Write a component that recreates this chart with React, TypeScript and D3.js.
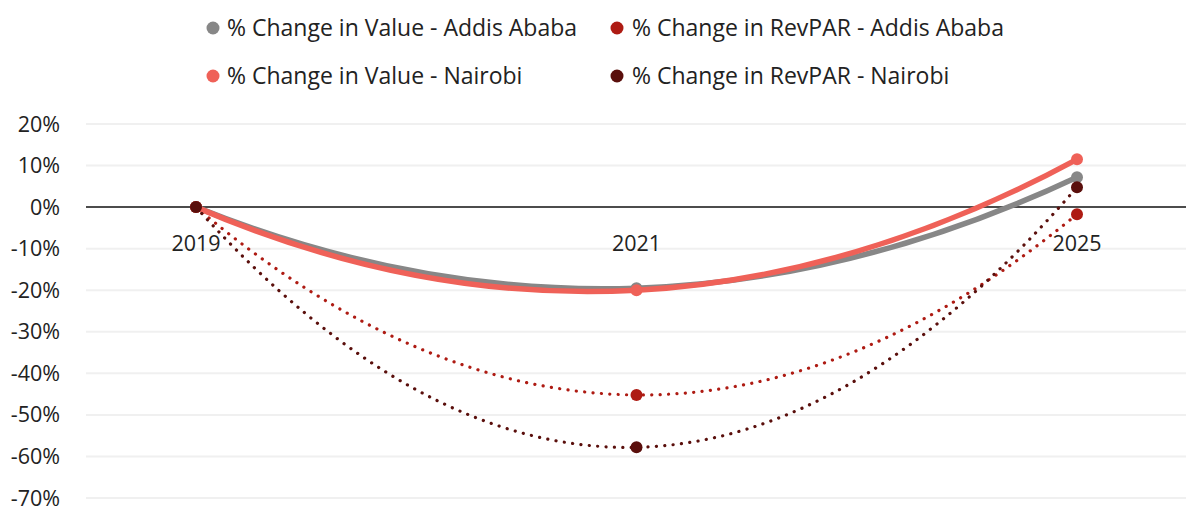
import React from "react";
import * as d3 from "d3";

const categories = ["2019", "2021", "2025"];
const valueAddis = [0, -19.5, 7.2];
const revparAddis = [0, -45.2, -1.7];
const valueNairobi = [0, -20.0, 11.5];
const revparNairobi = [0, -57.8, 4.8];
const yTicks = [20, 10, 0, -10, -20, -30, -40, -50, -60, -70];

const series = [
  { name: "% Change in Value - Addis Ababa", values: valueAddis, color: "#878787", dotted: false },
  { name: "% Change in RevPAR - Addis Ababa", values: revparAddis, color: "#AE1B13", dotted: true },
  { name: "% Change in Value - Nairobi", values: valueNairobi, color: "#EF6158", dotted: false },
  { name: "% Change in RevPAR - Nairobi", values: revparNairobi, color: "#5A0F0C", dotted: true },
];

const W = 1186;
const H = 507;
const FONT = "'Open Sans', 'Noto Sans', sans-serif";

// Excel-like smoothing: Catmull-Rom interior tangents, quadratic end conditions
function smoothPath(pts: [number, number][]): string {
  const n = pts.length;
  const p = d3.path();
  if (n < 2) return "";
  const T: [number, number][] = [];
  for (let i = 0; i < n; i++) {
    if (i > 0 && i < n - 1) {
      T[i] = [(pts[i + 1][0] - pts[i - 1][0]) / 2, (pts[i + 1][1] - pts[i - 1][1]) / 2];
    }
  }
  if (n === 2) {
    T[0] = [pts[1][0] - pts[0][0], pts[1][1] - pts[0][1]];
    T[1] = T[0];
  } else {
    T[0] = [2 * (pts[1][0] - pts[0][0]) - T[1][0], 2 * (pts[1][1] - pts[0][1]) - T[1][1]];
    T[n - 1] = [
      2 * (pts[n - 1][0] - pts[n - 2][0]) - T[n - 2][0],
      2 * (pts[n - 1][1] - pts[n - 2][1]) - T[n - 2][1],
    ];
  }
  p.moveTo(pts[0][0], pts[0][1]);
  for (let i = 0; i < n - 1; i++) {
    p.bezierCurveTo(
      pts[i][0] + T[i][0] / 3,
      pts[i][1] + T[i][1] / 3,
      pts[i + 1][0] - T[i + 1][0] / 3,
      pts[i + 1][1] - T[i + 1][1] / 3,
      pts[i + 1][0],
      pts[i + 1][1]
    );
  }
  return p.toString();
}

export default function App() {
  const x = d3.scalePoint<string>().domain(categories).range([196, 1077]);
  const y = d3.scaleLinear().domain([-70, 20]).range([498, 124]);

  const legendPos = [
    { mx: 213, tx: 227, y: 28 },
    { mx: 617, tx: 632, y: 28 },
    { mx: 213, tx: 227, y: 76 },
    { mx: 617, tx: 632, y: 76 },
  ];

  return (
    <svg
      width={W}
      height={H}
      style={{ position: "absolute", left: 0, top: 0, background: "#fff" }}
      fontFamily={FONT}
    >
      {yTicks.map((t) => (
        <g key={t}>
          {t !== 0 && (
            <line x1={86} x2={W} y1={y(t)} y2={y(t)} stroke="#F0F0F0" strokeWidth={2} />
          )}
          <text x={60} y={y(t)} dy="0.35em" textAnchor="end" fontSize={21.5} fill="#222">
            {`${t}%`}
          </text>
        </g>
      ))}
      <line x1={86} x2={W} y1={y(0)} y2={y(0)} stroke="#111" strokeWidth={1.5} />
      {categories.map((c) => (
        <text key={c} x={x(c)} y={251} textAnchor="middle" fontSize={21.5} fill="#222">
          {c}
        </text>
      ))}
      {series.map((s) => (
        <g key={s.name}>
          <path
            d={smoothPath(
              s.values.map((v, i) => [x(categories[i]) as number, y(v)] as [number, number])
            )}
            fill="none"
            stroke={s.color}
            strokeWidth={s.dotted ? 3.2 : 5.5}
            strokeLinecap="round"
            strokeDasharray={s.dotted ? "0.1 8.3" : undefined}
          />
          {s.values.map((v, i) => (
            <circle key={i} cx={x(categories[i])} cy={y(v)} r={6} fill={s.color} />
          ))}
        </g>
      ))}
      {series.map((s, i) => (
        <g key={"leg" + i}>
          <circle cx={legendPos[i].mx} cy={legendPos[i].y} r={6.5} fill={s.color} />
          <text x={legendPos[i].tx} y={legendPos[i].y} dy="0.35em" fontSize={23} fill="#222">
            {s.name}
          </text>
        </g>
      ))}
    </svg>
  );
}
